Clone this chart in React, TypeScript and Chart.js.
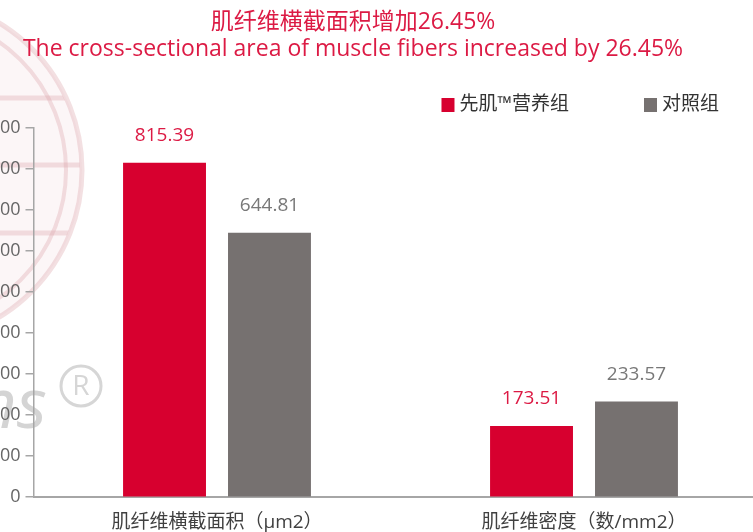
import { useEffect, useRef } from "react";
import { Chart, registerables } from "chart.js";

Chart.register(...registerables);

const categories = ["肌纤维横截面积（μm2）", "肌纤维密度（数/mm2）"];
const seriesNames = ["先肌™营养组", "对照组"];
const xianjiValues = [815.39, 173.51];
const controlValues = [644.81, 233.57];
const yMin = 0;
const yMax = 900;
const yStep = 100;
const titleLines = [
  "肌纤维横截面积增加26.45%",
  "The cross-sectional area of muscle fibers increased by 26.45%",
];

const RED = "#d7002f";
const GRAY = "#767170";
const RED_TEXT = "#dc1a44";
const GRAY_TEXT = "#787878";
const AXIS = "#a6a6a6";
const FONT = "'Open Sans', 'Noto Sans CJK SC', sans-serif";

// canvas geometry (canvas is larger than the viewport, like the cropped original)
const CANVAS_LEFT = -64;
const CANVAS_W = 834;
const CANVAS_H = 548;

const watermarkPlugin = {
  id: "watermark",
  beforeDraw(chart: any) {
    const ctx = chart.ctx;
    const ox = -CANVAS_LEFT;
    ctx.save();
    const cx = -90 + ox;
    const cy = 170;
    ctx.beginPath();
    ctx.arc(cx, cy, 172, 0, Math.PI * 2);
    ctx.fillStyle = "rgba(240, 215, 218, 0.22)";
    ctx.fill();
    ctx.lineWidth = 5;
    ctx.strokeStyle = "rgba(220, 160, 168, 0.33)";
    ctx.stroke();
    ctx.beginPath();
    ctx.arc(cx, cy, 156, 0, Math.PI * 2);
    ctx.lineWidth = 4;
    ctx.stroke();
    ctx.save();
    ctx.beginPath();
    ctx.arc(cx, cy, 170, 0, Math.PI * 2);
    ctx.clip();
    ctx.lineWidth = 5;
    [98, 165, 233].forEach((y) => {
      ctx.beginPath();
      ctx.moveTo(cx - 180, y);
      ctx.lineTo(cx + 180, y);
      ctx.stroke();
    });
    ctx.restore();
    ctx.fillStyle = "#d4d4d4";
    ctx.font = "italic 70px 'Open Sans', sans-serif";
    ctx.textAlign = "right";
    ctx.textBaseline = "alphabetic";
    ctx.fillText("ns", 47 + ox, 428);
    ctx.beginPath();
    ctx.arc(81 + ox, 386, 20, 0, Math.PI * 2);
    ctx.lineWidth = 3;
    ctx.strokeStyle = "#d6d6d6";
    ctx.stroke();
    ctx.fillStyle = "#d6d6d6";
    ctx.font = "28px 'Open Sans', sans-serif";
    ctx.textAlign = "center";
    ctx.textBaseline = "middle";
    ctx.fillText("R", 81 + ox, 387);
    ctx.restore();
  },
};

const valueLabelPlugin = {
  id: "valueLabels",
  afterDatasetsDraw(chart: any) {
    const ctx = chart.ctx;
    ctx.save();
    ctx.font = `19px ${FONT}`;
    ctx.textAlign = "center";
    ctx.textBaseline = "middle";
    chart.data.datasets.forEach((ds: any, i: number) => {
      const meta = chart.getDatasetMeta(i);
      ctx.fillStyle = ds.labelColor;
      meta.data.forEach((bar: any, j: number) => {
        ctx.fillText(Number(ds.data[j]).toFixed(2), bar.x, bar.y - 27);
      });
    });
    ctx.restore();
  },
};

const legendPlugin = {
  id: "customLegend",
  afterDraw(chart: any) {
    const ctx = chart.ctx;
    const area = chart.chartArea;
    ctx.save();
    ctx.font = `19px ${FONT}`;
    ctx.textBaseline = "middle";
    ctx.textAlign = "left";
    const y = area.top - 23;
    const box = 13;
    const gapText = 5;
    const gapItem = 75;
    let right = area.right - 48.5;
    const items = chart.data.datasets.map((ds: any) => ({
      text: ds.label,
      color: ds.backgroundColor,
      w: ctx.measureText(ds.label).width,
    }));
    for (let k = items.length - 1; k >= 0; k--) {
      const it = items[k];
      const textX = right - it.w;
      const boxX = textX - gapText - box;
      ctx.fillStyle = it.color;
      ctx.fillRect(boxX, y - 7, box, 14);
      ctx.fillStyle = "#333333";
      ctx.fillText(it.text, textX, y);
      right = boxX - gapItem;
    }
    ctx.restore();
  },
};

export default function App() {
  const canvasRef = useRef<HTMLCanvasElement | null>(null);

  useEffect(() => {
    if (!canvasRef.current) return;
    const chart = new Chart(canvasRef.current, {
      type: "bar",
      data: {
        labels: categories,
        datasets: [
          {
            label: seriesNames[0],
            data: xianjiValues,
            backgroundColor: RED,
            labelColor: RED_TEXT,
            categoryPercentage: 0.572,
            barPercentage: 0.79,
          } as any,
          {
            label: seriesNames[1],
            data: controlValues,
            backgroundColor: GRAY,
            labelColor: GRAY_TEXT,
            categoryPercentage: 0.572,
            barPercentage: 0.79,
          } as any,
        ],
      },
      options: {
        responsive: false,
        animation: false,
        devicePixelRatio: 1,
        layout: { padding: { left: 2.5, right: 2.5, top: 0, bottom: 0 } },
        plugins: {
          legend: { display: false },
          tooltip: { enabled: false },
          title: {
            display: true,
            text: titleLines,
            color: RED_TEXT,
            font: { family: FONT, size: 23, weight: "normal", lineHeight: 1.174 },
            padding: { top: 8.5, bottom: 65.5 },
          },
        },
        scales: {
          x: {
            grid: { display: false, drawTicks: false },
            border: { display: true, color: AXIS, width: 2 },
            ticks: {
              color: "#404040",
              font: { family: FONT, size: 19 },
              padding: 14,
              maxRotation: 0,
            },
          },
          y: {
            min: yMin,
            max: yMax,
            afterFit(scale: any) {
              scale.width = 95;
            },
            grid: {
              display: true,
              drawOnChartArea: false,
              drawTicks: true,
              tickLength: 8,
              color: AXIS,
              lineWidth: 1.5,
            },
            border: { display: true, color: AXIS, width: 1.5 },
            ticks: {
              stepSize: yStep,
              color: "#666666",
              font: { family: FONT, size: 18 },
              padding: 5,
            },
          },
        },
      },
      plugins: [watermarkPlugin, valueLabelPlugin, legendPlugin],
    });
    return () => chart.destroy();
  }, []);

  return (
    <div
      style={{
        position: "fixed",
        left: 0,
        top: 0,
        width: 753,
        height: 532,
        overflow: "hidden",
        background: "#ffffff",
      }}
    >
      <canvas
        ref={canvasRef}
        width={CANVAS_W}
        height={CANVAS_H}
        style={{
          position: "absolute",
          left: CANVAS_LEFT,
          top: 0,
          width: CANVAS_W,
          height: CANVAS_H,
        }}
      />
    </div>
  );
}
